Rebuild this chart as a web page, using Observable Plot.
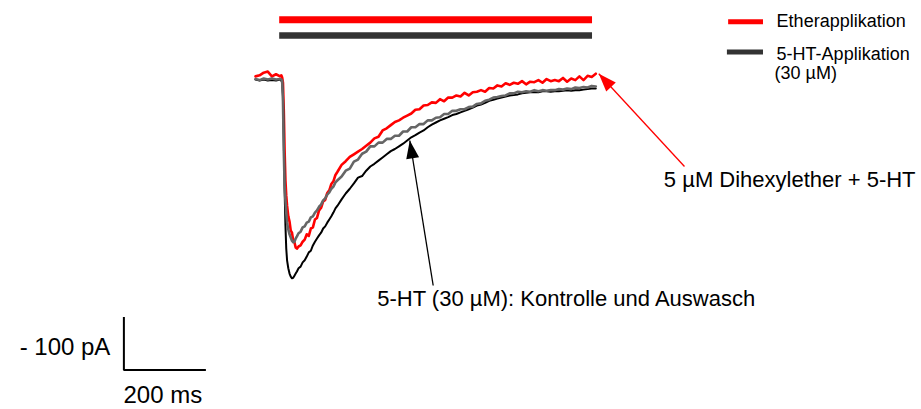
<!DOCTYPE html>
<html>
<head>
<meta charset="utf-8">
<script src="https://cdn.jsdelivr.net/npm/d3@7"></script>
<script src="https://cdn.jsdelivr.net/npm/@observablehq/plot@0.6"></script>
<style>
  html, body { margin: 0; padding: 0; background: #fff; }
  #chart svg { display: block; }
</style>
</head>
<body>
<div id="chart"></div>
<script>
// ---------- DATA (time in ms, current in pA) ----------
const times = [0,10,20,30,40,50,60,
  63,65,67,69,71,73,75,77,80,83,86,89,92,95,98,101,
  105,110,115,120,125,130,135,140,145,150,155,160,165,170,175,180,185,190,195,200,
  210,220,230,240,250,260,270,280,290,300,310,320,330,340,350,360,370,380,390,400,
  410,420,430,440,450,460,470,480,490,500,510,520,530,540,550,560,570,580,590,600,
  610,620,630,640,650,660,670,680,690,700,710,720,730,740,750,760,770,780,790,800,
  810,820,830];

// 5-HT (30 µM) control – black
const controlTrace = [-2,-4,-2,-4,-3,-4,-2,
  -4,-8,-32,-117,-211,-277,-321,-343,-358,-368,-374,-377,-376,-372,-368,-364,
  -358,-355,-347,-343,-336,-328,-325,-315,-308,-302,-296,-291,-283,-279,-272,-266,-260,-253,-245,-240,
  -228,-217,-208,-198,-187,-184,-174,-166,-161,-155,-149,-143,-137,-133,-128,-123,-117,-111,-107,-102,
  -98,-92,-87,-83,-79,-76,-73,-69,-67,-64,-61,-58,-55,-51,-49,-46,-42,-40,-38,-36,
  -34,-32,-31,-30,-28,-27,-26,-26,-26,-24,-24,-25,-24,-24,-23,-22,-23,-22,-22,-21,
  -20,-19,-19];

// 5-HT (30 µM) washout – grey
const washoutTrace = [-1,-3,0,-2,0,-2,-1,
  -2,-4,-42,-136,-202,-230,-253,-272,-285,-294,-300,-306,-309,-308,-302,-298,
  -292,-289,-281,-279,-272,-270,-262,-260,-253,-249,-242,-238,-230,-226,-219,-215,-208,-204,-196,-192,
  -185,-174,-170,-157,-153,-142,-138,-128,-128,-121,-121,-114,-114,-108,-108,-100,-100,-92,-92,-86,
  -86,-79,-79,-74,-73,-67,-67,-61,-61,-58,-58,-54,-53,-48,-47,-42,-40,-36,-35,-33,
  -32,-28,-28,-25,-26,-24,-25,-22,-24,-22,-23,-22,-22,-20,-21,-19,-20,-17,-18,-16,
  -17,-14,-15];

// 5 µM Dihexylether + 5-HT – red
const etherTrace = [4,6,11,13,4,8,4,
  6,2,-8,-60,-136,-192,-221,-240,-260,-270,-287,-291,-306,-309,-319,-321,
  -317,-315,-308,-304,-294,-297,-283,-281,-266,-263,-249,-244,-232,-229,-216,-211,-199,-194,-182,-176,
  -163,-156,-148,-143,-138,-133,-127,-121,-113,-110,-98,-94,-88,-82,-79,-74,-70,-66,-59,-58,
  -51,-50,-45,-46,-39,-43,-36,-36,-32,-34,-27,-32,-26,-25,-22,-25,-18,-19,-13,-15,
  -9,-12,-8,-10,-5,-11,-6,-7,-3,-8,-1,-5,-3,-5,1,-6,0,-3,4,-3,
  5,3,9];

const applicationPeriod = [59, 822];           // ms, application bars
const scaleBar = {time: 200, current: 100};    // 200 ms, 100 pA

const legendLabels = ["Etherapplikation", "5-HT-Applikation", "(30 µM)"];
const annotationLabels = ["5 µM Dihexylether + 5-HT", "5-HT (30 µM): Kontrolle und Auswasch"];
const scaleLabels = ["- 100 pA", "200 ms"];

// ---------- LAYOUT ----------
const pxPerMs = 0.41, pxPerPa = 0.53, originX = 255, originY = 78;
const font = "'Liberation Sans', Arial, Helvetica, sans-serif";
const RED = "#ff0000", GREY = "#666666", DARK = "#333333";

const etherBarLevel = 111, htBarLevel = 81;
const sbT = -321, sbI = -550;

const arrows = [
  {x1: 433.4, y1: -390.6, x2: 376.3, y2: -117, color: "#000000"},
  {x1: 1046.3, y1: -166, x2: 837.3, y2: 8.9, color: RED}
];
const headAngle = a => Math.atan2((a.x2 - a.x1) * pxPerMs, (a.y2 - a.y1) * pxPerPa) * 180 / Math.PI;
const arrowHead = {draw(ctx) { ctx.moveTo(0, 0); ctx.lineTo(-6.5, 18); ctx.lineTo(6.5, 18); ctx.closePath(); }};

const mk = arr => times.map((t, i) => ({t, I: arr[i]}));

const chart = Plot.plot({
  width: 921,
  height: 409,
  margin: 0,
  x: {domain: [0, 1000], range: [originX, originX + 1000 * pxPerMs], axis: null},
  y: {domain: [0, -1000], range: [originY, originY + 1000 * pxPerPa], axis: null},
  style: {fontFamily: font, background: "#fff"},
  marks: [
    // application bars
    Plot.ruleY([etherBarLevel], {x1: applicationPeriod[0], x2: applicationPeriod[1], stroke: RED, strokeWidth: 7, strokeLinecap: "butt"}),
    Plot.ruleY([htBarLevel], {x1: applicationPeriod[0], x2: applicationPeriod[1], stroke: DARK, strokeWidth: 6.5, strokeLinecap: "butt"}),
    // traces
    Plot.line(mk(etherTrace), {x: "t", y: "I", stroke: RED, strokeWidth: 2.6}),
    Plot.line(mk(controlTrace), {x: "t", y: "I", stroke: "#000", strokeWidth: 2}),
    Plot.line(mk(washoutTrace), {x: "t", y: "I", stroke: GREY, strokeWidth: 2.6}),
    // arrows
    Plot.link(arrows, {x1: "x1", y1: "y1", x2: "x2", y2: "y2", stroke: d => d.color, strokeWidth: 1.3}),
    Plot.dot(arrows, {x: "x2", y: "y2", symbol: arrowHead, fill: d => d.color, stroke: "none", rotate: headAngle}),
    // annotations
    Plot.text([annotationLabels[0]], {x: 996, y: -191, text: d => d, textAnchor: "start", lineAnchor: "middle", fontSize: 22, fill: "#000", fontFamily: font}),
    Plot.text([annotationLabels[1]], {x: 297, y: -416, text: d => d, textAnchor: "start", lineAnchor: "middle", fontSize: 22, fill: "#000", fontFamily: font}),
    // scale bar
    Plot.line([[sbT, sbI + scaleBar.current], [sbT, sbI], [sbT + scaleBar.time, sbI]], {stroke: "#000", strokeWidth: 2, strokeLinejoin: "miter", strokeLinecap: "butt"}),
    Plot.text([scaleLabels[0]], {x: -354, y: -507, text: d => d, textAnchor: "end", lineAnchor: "middle", fontSize: 24, fill: "#000", fontFamily: font}),
    Plot.text([scaleLabels[1]], {x: -322, y: -597, text: d => d, textAnchor: "start", lineAnchor: "middle", fontSize: 24, fill: "#000", fontFamily: font}),
    // legend
    Plot.ruleY([107], {x1: 1154, x2: 1239, stroke: RED, strokeWidth: 5, strokeLinecap: "butt"}),
    Plot.ruleY([50], {x1: 1151, x2: 1239, stroke: DARK, strokeWidth: 5, strokeLinecap: "butt"}),
    Plot.text([legendLabels[0]], {x: 1271, y: 108, text: d => d, textAnchor: "start", lineAnchor: "middle", fontSize: 18, fill: "#000", fontFamily: font}),
    Plot.text([legendLabels[1]], {x: 1271, y: 46.6, text: d => d, textAnchor: "start", lineAnchor: "middle", fontSize: 18, fill: "#000", fontFamily: font}),
    Plot.text([legendLabels[2]], {x: 1266, y: 10, text: d => d, textAnchor: "start", lineAnchor: "middle", fontSize: 18, fill: "#000", fontFamily: font})
  ]
});
document.getElementById("chart").appendChild(chart);
</script>
</body>
</html>
